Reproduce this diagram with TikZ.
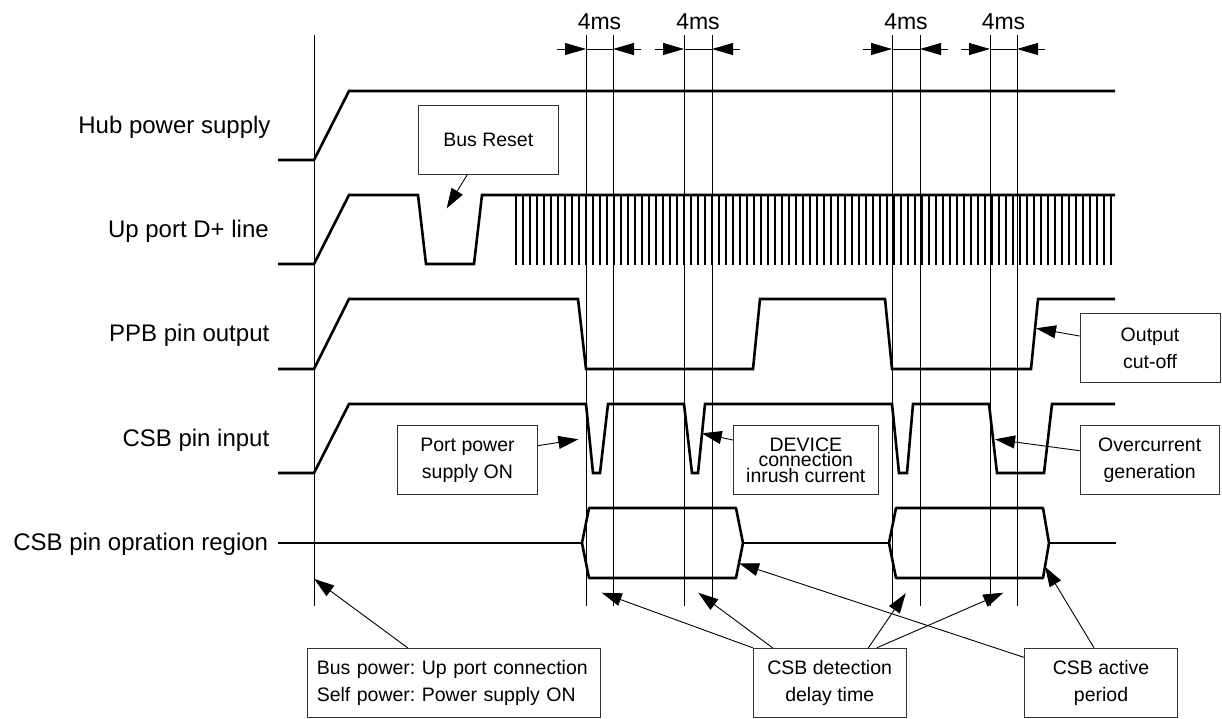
\documentclass[tikz,border=0pt]{standalone}
\usepackage{fontspec}
\setmainfont{Liberation Sans}
\usetikzlibrary{arrows.meta}
\hyphenpenalty=10000
\begin{document}
\frenchspacing
\begin{tikzpicture}[x=1pt,y=-1pt,
  lbl/.style={font=\fontsize{24}{28}\selectfont, inner sep=0pt},
  msl/.style={font=\fontsize{23}{28}\selectfont, inner sep=0pt, anchor=base},
  box/.style={draw=black!80, line width=0.9pt, font=\fontsize{19.5}{27}\selectfont, align=center, minimum height=69pt, inner sep=0pt},
  ann/.style={line width=0.9pt, -{Triangle[length=20pt,width=13pt]}},
  dimarr/.style={line width=0.9pt, -{Triangle[length=21pt,width=12pt]}},
  sig/.style={line width=2.6pt},
  guide/.style={line width=0.9pt},
  tick/.style={line width=1.3pt}]
\useasboundingbox (0,0) rectangle (1222,718);

% guide lines
\foreach \x in {314,586,613,684,712,892,920,990,1017}
  \draw[guide] (\x,35) -- (\x,606);

% 4ms dimension marks
\foreach \a/\b in {586/613,684/712,892/920,990/1017}{
  \draw[dimarr] (\a-29,49) -- (\a,49);
  \draw[guide] (\a,49) -- (\b,49);
  \draw[dimarr] (\b+28,49) -- (\b,49);
}
\node[msl] (ms1) at (599.5,29.3) {4ms};
\node[msl] (ms2) at (698,29.3) {4ms};
\node[msl] (ms3) at (906,29.3) {4ms};
\node[msl] (ms4) at (1003.5,29.3) {4ms};

% signal labels
\node[lbl, anchor=base east] (lhub) at (270.7,133.3) {Hub power supply};
\node[lbl, anchor=base east] (ldp) at (269,237.3) {Up port D+ line};
\node[lbl, anchor=base east] (lppb) at (269.5,341.7) {PPB pin output};
\node[lbl, anchor=base east] (lcsb) at (269.5,446.7) {CSB pin input};
\node[lbl, anchor=base east] (lop) at (268.3,550) {CSB pin opration region};

% Hub power supply
\draw[sig] (278,160) -- (314,160) -- (349,91) -- (1115,91);
% Up port D+
\draw[sig] (278,264) -- (314,264) -- (349,195) -- (418,195) -- (426,264) -- (474,264) -- (482,195) -- (1115,195);
\foreach \i in {0,...,85}
  \draw[tick] ({516+7*\i},196) -- ({516+7*\i},265);
% PPB
\draw[sig] (278,369) -- (314,369) -- (349,299) -- (578,299) -- (586,369) -- (753,369) -- (760,299) -- (885,299) -- (892,369) -- (1031,369) -- (1038,299) -- (1115,299);
% CSB input
\draw[sig] (278,473) -- (314,473) -- (349,404) -- (586,404) -- (593,473) -- (600,473) -- (608,404) -- (684,404) -- (692,473) -- (698,473) -- (705,404) -- (892,404) -- (899,473) -- (907,473) -- (913,404) -- (989,404) -- (997,473) -- (1044,473) -- (1052,404) -- (1115,404);
% CSB operation region
\draw[sig] (278,543) -- (582,543);
\draw[sig, line join=round] (582,543) -- (589,508) -- (736,508) -- (743,543) -- (736,578) -- (589,578) -- cycle;
\draw[sig] (743,543) -- (889,543);
\draw[sig, line join=round] (889,543) -- (896,508) -- (1043,508) -- (1049,543) -- (1043,578) -- (896,578) -- cycle;
\draw[sig] (1049,543) -- (1116,543);

% boxes
\node[box, minimum width=140pt] (bres) at (488.3,139.7) {Bus Reset};
\node[box, minimum width=139.6pt] (port) at (467.5,460) {Port power\\supply ON};
\node[box, minimum width=145pt, font=\fontsize{19.5}{15.7}\selectfont] (dev) at (805.8,460) {DEVICE\\connection\\inrush current};
\node[box, minimum width=139.3pt] (over) at (1149.7,460) {Overcurrent\\generation};
\node[box, minimum width=140pt] (cut) at (1150,348.3) {Output\\cut-off};
\node[box, align=left, text width=273.9pt, inner xsep=9.4pt] (bpow) at (453.7,682.8) {Bus power: Up port connection\\Self power: Power supply ON};
\node[box, minimum width=152.7pt] (det) at (829.7,682.8) {CSB detection\\delay time};
\node[box, minimum width=153.4pt] (act) at (1101,682.8) {CSB active\\period};

% arrow tips
\coordinate (tbres) at (446.7,208.3);
\coordinate (tport) at (578.3,439.3);
\coordinate (tdev) at (701.7,433.3);
\coordinate (tover) at (995,439.3);
\coordinate (tcut) at (1036,328.3);
\coordinate (tbpow) at (314.3,579);
\coordinate (tdet1) at (601.7,592.7);
\coordinate (tdet2) at (698.3,592.7);
\coordinate (tdet3) at (905.7,593.3);
\coordinate (tdet4) at (1003.3,592.7);
\coordinate (tact1) at (739,563.3);
\coordinate (tact2) at (1045,566.7);

\draw[ann] ([xshift=-21pt]bres.south) -- (tbres);
\draw[ann] ([yshift=14.3pt]port.east) -- (tport);
\draw[ann] ([yshift=20pt]dev.west) -- (tdev);
\draw[ann] ([yshift=9.3pt]over.west) -- (tover);
\draw[ann] ([yshift=12.3pt]cut.west) -- (tcut);
\draw[ann] ([xshift=-46pt]bpow.north) -- (tbpow);
\draw[ann] (det.north west) -- (tdet1);
\draw[ann] ([xshift=19.7pt]det.north west) -- (tdet2);
\draw[ann] ([xshift=38.6pt]det.north) -- (tdet3);
\draw[ann] ([xshift=47pt]det.north) -- (tdet4);
\draw[ann] ([yshift=25.5pt]act.west) -- (tact1);
\draw[ann] ([xshift=-7pt]act.north) -- (tact2);
\end{tikzpicture}
\end{document}
